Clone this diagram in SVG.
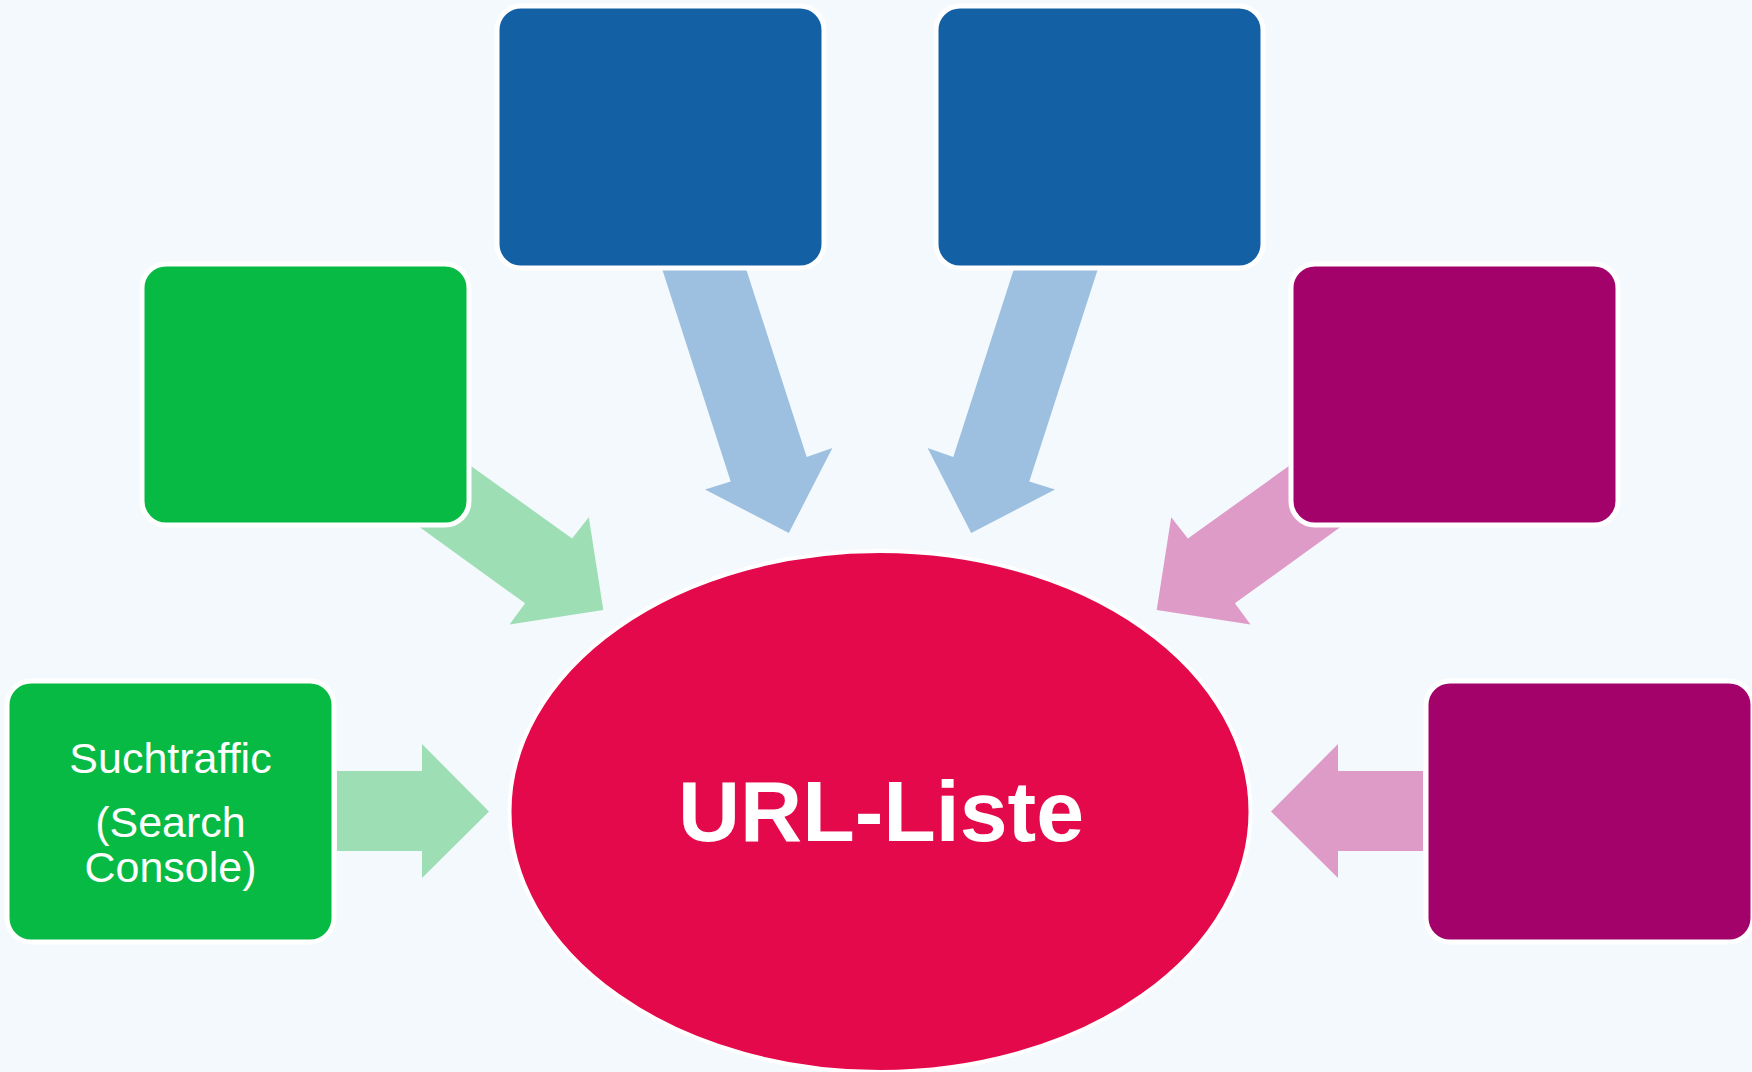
<svg xmlns="http://www.w3.org/2000/svg" width="1752" height="1072" viewBox="0 0 1752 1072">
<style>
.box{stroke:#ffffff;stroke-width:5}
.green{fill:#07BA44}
.blue{fill:#1360A5}
.purple{fill:#A3026B}
.lg{fill:#9EDEB5}
.lb{fill:#9DC0E0}
.lp{fill:#DE9BC7}
.t{font-family:"Liberation Sans",Arial,sans-serif;fill:#ffffff;text-anchor:middle}
</style>
<rect x="0" y="0" width="1752" height="1072" fill="#F4F9FD"/>
<g id="connectors">
<polygon class="lg" points="337,771 422,771 422,744 489,811.5 422,878 422,851 337,851"/>
<polygon class="lp" points="1423,771 1338,771 1338,744 1271,811.5 1338,878 1338,851 1423,851"/>
<polygon class="lg" points="391.6,409 572.1,538.5 588.8,517.3 603.3,610 509.5,624.6 525.1,603.3 341.3,470.5"/>
<polygon class="lp" points="1368.4,409 1187.9,538.5 1171.2,517.3 1156.7,610 1250.5,624.6 1234.9,603.3 1418.7,470.5"/>
<polygon class="lb" points="656,250 740,250 806.7,457 832.4,448 788.8,533 705,489.4 730.7,481.6"/>
<polygon class="lb" points="1104,250 1020,250 953.3,457 927.6,448 971.2,533 1055,489.4 1029.3,481.6"/>
</g>
<g id="node-top-left"><rect class="box green" x="142" y="264" width="327" height="261" rx="24"/></g>
<g id="node-top-blue-1"><rect class="box blue" x="497" y="6" width="327" height="262" rx="24"/></g>
<g id="node-top-blue-2"><rect class="box blue" x="936" y="6" width="327" height="262" rx="24"/></g>
<g id="node-top-right"><rect class="box purple" x="1291" y="264" width="327" height="261" rx="24"/></g>
<g id="node-suchtraffic">
<rect class="box green" x="7" y="681" width="327" height="261" rx="24"/>
<text class="t" x="170.5" y="773" font-size="43">Suchtraffic</text>
<text class="t" x="170.5" y="837" font-size="43">(Search</text>
<text class="t" x="170.5" y="882" font-size="43">Console)</text>
</g>
<g id="node-bottom-right"><rect class="box purple" x="1426" y="681" width="327" height="261" rx="24"/></g>
<g id="node-url-liste">
<ellipse cx="880" cy="811.5" rx="370.5" ry="260.5" fill="#E4094B" stroke="#ffffff" stroke-width="4"/>
<text class="t" x="881" y="841" font-size="86" font-weight="bold">URL-Liste</text>
</g>
</svg>
